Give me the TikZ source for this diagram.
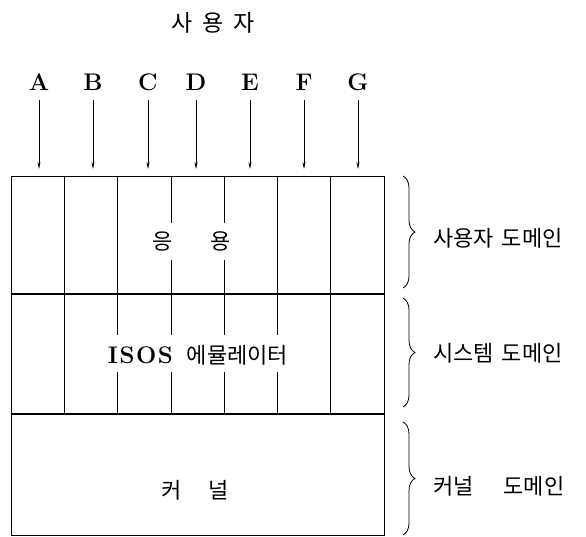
\documentclass[tikz,border=0pt]{standalone}
\usepackage{fontspec}
\newfontfamily\kr{Noto Sans CJK KR}
\usetikzlibrary{decorations.pathreplacing,arrows.meta}
\begin{document}
\begin{tikzpicture}[x=1pt,y=-1pt,
  lat/.style={font=\fontsize{24}{28}\selectfont\bfseries, inner sep=0pt},
  kor/.style={font=\kr\fontsize{22}{26}\selectfont, inner sep=0pt},
  korlab/.style={font=\kr\fontsize{22}{26}\selectfont, inner sep=0pt, anchor=west},
  rowbox/.style={draw, line width=1pt, minimum width=373pt, anchor=north west, inner sep=0pt, outer sep=0pt},
  sep/.style={line width=2pt},
  divline/.style={line width=0.8pt},
  arr/.style={-{Stealth[length=7pt,width=3pt]}, line width=0.6pt, shorten <=10pt, shorten >=7pt},
  br/.style={decorate, decoration={brace, amplitude=12pt}, line width=0.8pt}]
\useasboundingbox (0,0) rectangle (586,536);

% rows
\node[rowbox, minimum height=118pt] (user) at (11,176) {};
\node[rowbox, minimum height=120pt] (sys) at (11,294) {};
\node[rowbox, minimum height=121pt] (kern) at (11,414) {};
\draw[sep] (user.south west) -- (user.south east);
\draw[sep] (sys.south west) -- (sys.south east);

% column dividers
\draw[divline] (64.3,176) -- (64.3,414);
\draw[divline] (330.7,176) -- (330.7,414);
\draw[divline] (117.6,176) -- (117.6,294);
\draw[divline] (277.4,176) -- (277.4,294);
\draw[divline] (170.9,176) -- (170.9,223) (170.9,260) -- (170.9,294);
\draw[divline] (224.1,176) -- (224.1,223) (224.1,260) -- (224.1,294);
\foreach \x in {117.6,170.9,224.1,277.4}{
  \draw[divline] (\x,294) -- (\x,335) (\x,372) -- (\x,414);
}

% title
\node[kor, font=\kr\fontsize{23}{27}\selectfont] (usr) at (213,23) {사\hspace{10pt}용\hspace{10pt}자};

% interface letters and arrows
\node[lat, anchor=base] (A) at (39,90) {A};
\node[lat, anchor=base] (B) at (93,90) {B};
\node[lat, anchor=base] (C) at (148,90) {C};
\node[lat, anchor=base] (D) at (196,90) {D};
\node[lat, anchor=base] (E) at (250,90) {E};
\node[lat, anchor=base] (F) at (304,90) {F};
\node[lat, anchor=base] (G) at (358,90) {G};
\foreach \n in {A,B,C,D,E,F,G}{
  \draw[arr] (\n.south) -- (\n.south |- user.north);
}

% texts in boxes
\node[kor] (app) at (192,241) {응\hspace{38pt}용};
\node[inner sep=0pt] (emu) at (198,355) {{\fontsize{24}{28}\selectfont\bfseries I\kern1.5pt S\kern1.5pt O\kern1.5pt S}\hspace{14pt}{\kr\fontsize{22}{26}\selectfont 에뮬레이터}};
\node[kor] (ker) at (195,490) {커\hspace{27pt}널};

% braces
\draw[br] ([xshift=19pt]user.north east) -- ([xshift=19pt,yshift=6pt]user.south east);
\draw[br] ([xshift=19pt,yshift=-4pt]sys.north east) -- ([xshift=19pt,yshift=7pt]sys.south east);
\draw[br] ([xshift=19pt,yshift=-8pt]kern.north east) -- ([xshift=19pt]kern.south east);

% domain labels
\node[korlab] (ud) at (433,238) {사용자\hspace{8pt}도메인};
\node[korlab] (sd) at (433,353) {시스템\hspace{8pt}도메인};
\node[korlab] (kd) at (433,486) {커널\hspace{30pt}도메인};
\end{tikzpicture}
\end{document}
